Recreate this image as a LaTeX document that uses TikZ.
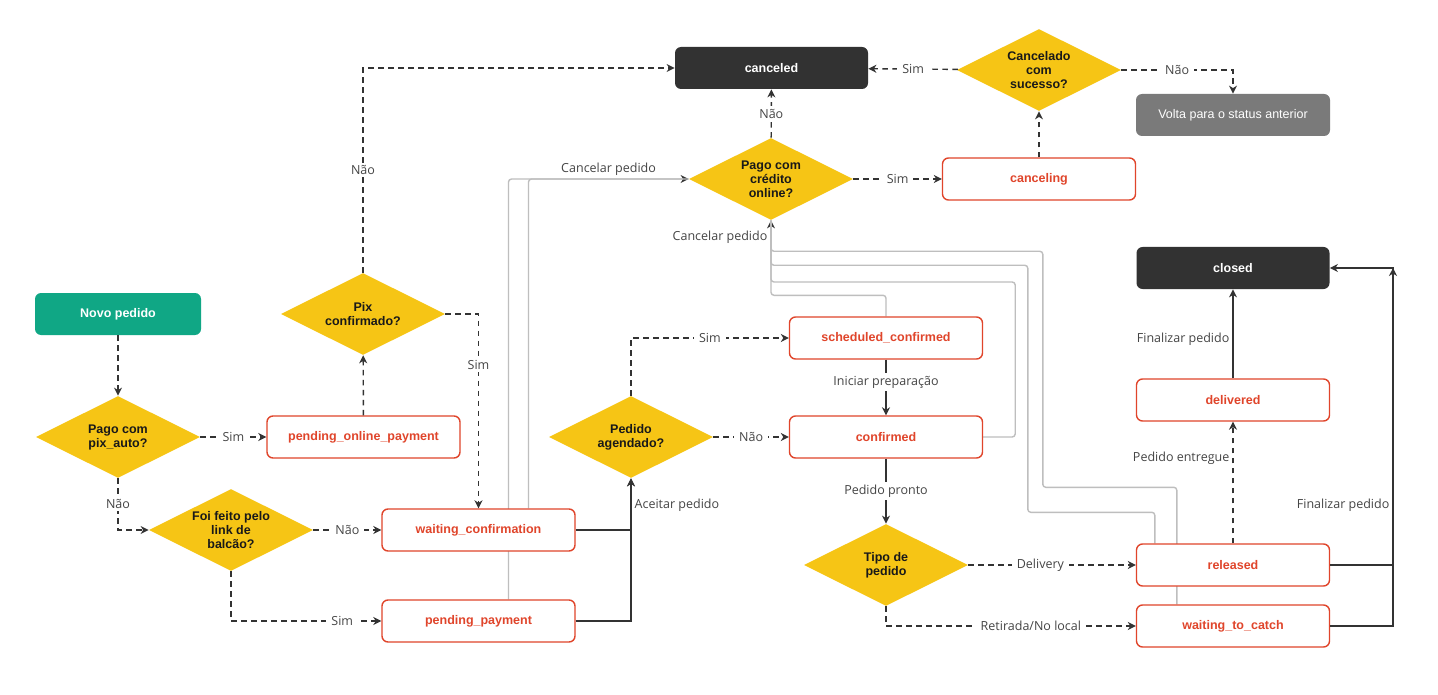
\documentclass[tikz,border=0pt]{standalone}
\usepackage{fontspec}
\setmainfont{Liberation Sans}
\newfontfamily\labelfont{Open Sans}
\usetikzlibrary{arrows.meta,shapes.geometric,backgrounds,calc,positioning}

\definecolor{ink}{HTML}{333333}
\definecolor{labelgray}{HTML}{454545}
\definecolor{rulegray}{HTML}{BEBEBE}
\definecolor{decisionyellow}{HTML}{F6C515}
\definecolor{statered}{HTML}{E0452B}
\definecolor{startgreen}{HTML}{10A785}
\definecolor{voltagray}{HTML}{7A7A7A}
\definecolor{darkbox}{HTML}{323232}

\tikzset{every picture/.style={line width=0.75pt}}
\tikzset{
  boxfont/.style={font=\fontsize{12.5}{14}\selectfont\bfseries},
  statebox/.style={boxfont, draw=statered, line width=1.4pt, fill=white, rounded corners=6pt,
    minimum width=193pt, minimum height=42pt, inner sep=0pt, text=statered},
  endbox/.style={boxfont, fill=darkbox, rounded corners=6pt, minimum width=193pt,
    minimum height=42pt, inner sep=0pt, text=white},
  startbox/.style={boxfont, fill=startgreen, rounded corners=6pt, minimum width=166pt,
    minimum height=42pt, inner sep=0pt, text=white},
  voltabox/.style={font=\fontsize{12.5}{14}\selectfont, fill=voltagray, rounded corners=6pt,
    minimum width=194pt, minimum height=42pt, inner sep=0pt, text=white},
  decision/.style={boxfont, diamond, aspect=2, fill=decisionyellow, minimum width=164pt,
    minimum height=82pt, inner sep=0pt, align=center, text=black!90},
  dashline/.style={draw=ink, line width=1.4pt, dash pattern=on 5.5pt off 4.5pt,
    -{Stealth[length=8pt,width=8pt,inset=2.5pt]}},
  solidline/.style={draw=ink, line width=1.4pt, -{Stealth[length=8pt,width=8pt,inset=2.5pt]}},
  cancelline/.style={draw=rulegray, line width=1.4pt, rounded corners=3pt},
  graytip/.style={-{Stealth[length=8pt,width=8pt,inset=2.5pt,color=ink]}},
  lbl/.style={fill=white, text=labelgray, font=\labelfont\fontsize{12.5}{14}\selectfont,
    inner xsep=5pt, inner ysep=2.5pt},
}

\begin{document}
\begin{tikzpicture}[x=1pt,y=-1pt]
    \useasboundingbox (0,0) rectangle (1438,695);

    % === Entrada ===
    \node[startbox] (novo) at (118,314) {Novo pedido};
    \node[decision] (pixauto) at (118,437) {Pago com\\pix\_auto?};
    \node[statebox] (pop) at (363.5,437) {pending\_online\_payment};
    \node[decision] (pix) at (363,314) {Pix\\confirmado?};
    \node[decision] (balcao) at (231,530) {Foi feito pelo\\link de\\balcão?};
    \node[statebox] (wc) at (478.5,530) {waiting\_confirmation};
    \node[statebox] (pp) at (478.5,621) {pending\_payment};

    % === Preparo ===
    \node[decision] (agend) at (631,437) {Pedido\\agendado?};
    \node[statebox] (sched) at (886,338) {scheduled\_confirmed};
    \node[statebox] (conf) at (886,437) {confirmed};
    \node[decision] (tipo) at (886,565) {Tipo de\\pedido};

    % === Entrega ===
    \node[statebox] (rel) at (1233,565) {released};
    \node[statebox] (wtc) at (1233,626) {waiting\_to\_catch};
    \node[statebox] (deliv) at (1233,400) {delivered};
    \node[endbox] (closed) at (1233,268) {closed};
    \coordinate (fimcol) at (1393,268);

    % === Cancelamento ===
    \node[decision] (cred) at (771,179) {Pago com\\crédito\\online?};
    \node[statebox] (canceling) at (1039,179) {canceling};
    \node[decision] (cancsuc) at (1039,70) {Cancelado\\com\\sucesso?};
    \node[endbox] (canceled) at (771.5,68) {canceled};
    \node[voltabox] (volta) at (1233,115) {Volta para o status anterior};

    % decisoes (tracejado)
    \draw[dashline] (novo) -- (pixauto);
    \draw[dashline] (pixauto) -- node[lbl]{Sim} (pop);
    \draw[dashline] (pixauto.south) |- node[lbl,pos=0.25]{Não} (balcao.west);
    \draw[dashline] (balcao) -- node[lbl]{Não} (wc);
    \draw[dashline] (balcao.south) |- node[lbl,pos=0.87]{Sim} (pp.west);
    \draw[dashline] (pop) -- (pix);
    \draw[dashline] (pix.east) -| node[lbl,pos=0.63]{Sim} (wc.north);
    \draw[dashline] (pix.north) |- node[lbl,pos=0.25]{Não} (canceled.west);
    \draw[dashline] (agend.north) |- node[lbl,pos=0.75]{Sim} (sched.west);
    \draw[dashline] (agend) -- node[lbl]{Não} (conf);
    \draw[dashline] (tipo) -- node[lbl,pos=0.43]{Delivery} (rel);
    \draw[dashline] (tipo.south) |- node[lbl,pos=0.79]{Retirada/No local} (wtc.west);
    \draw[dashline] (rel) -- node[lbl,fill=none,left,inner xsep=3pt,pos=0.7]{Pedido entregue} (deliv);
    \draw[dashline] (cred) -- node[lbl]{Sim} (canceling);
    \draw[dashline] (cred) -- node[lbl]{Não} (canceled);
    \draw[dashline] (canceling) -- (cancsuc);
    \draw[dashline] (cancsuc) -- node[lbl]{Sim} (canceled);
    \draw[dashline] (cancsuc.east) -| node[lbl,pos=0.25]{Não} (volta.north);

    % acoes (continuo)
    \draw[solidline] (sched) -- node[lbl,pos=0.4]{Iniciar preparação} (conf);
    \draw[solidline] (conf) -- node[lbl]{Pedido pronto} (tipo);
    \draw[solidline] (wc.east) -| node[lbl,fill=none,right,inner xsep=3pt,pos=0.74]{Aceitar pedido} (agend.south);
    \draw[solidline] (pp.east) -| (agend.south);
    \draw[solidline] (deliv) -- node[lbl,fill=none,left,inner xsep=3pt,pos=0.44]{Finalizar pedido} (closed);
    \draw[solidline] (rel.east) -| node[lbl,fill=none,left,inner xsep=3pt,pos=0.6]{Finalizar pedido} (fimcol) -- (closed.east);
    \draw[solidline] (wtc.east) -| (fimcol);

    % cancelar pedido (cinza, atras das caixas)
    \begin{scope}[on background layer]
        \fill[white] (0,0) rectangle (1438,695);
        \draw[cancelline,graytip] ($(wc.north)+(50,0)$) |- node[lbl,fill=none,above,pos=0.75]{Cancelar pedido} (cred.west);
        \draw[cancelline] ($(pp.north)+(30,0)$) |- (cred.west);
        \draw[cancelline,graytip] (sched.north) -- ++(0,-21) -| node[lbl,fill=none,left,inner xsep=3pt,pos=0.89]{Cancelar pedido} (cred.south);
        \draw[cancelline] (conf.east) -- ++(32,0) -- ++(0,-155) -| (cred.south);
        \draw[cancelline] ($(rel.north west)+(19,0)$) -- ++(0,-31) -- ++(-127,0) -- ++(0,-247) -| (cred.south);
        \draw[cancelline] ($(wtc.north west)+(41,0)$) -- ++(0,-117) -- ++(-134,0) -- ++(0,-236) -| (cred.south);
    \end{scope}
\end{tikzpicture}
\end{document}
